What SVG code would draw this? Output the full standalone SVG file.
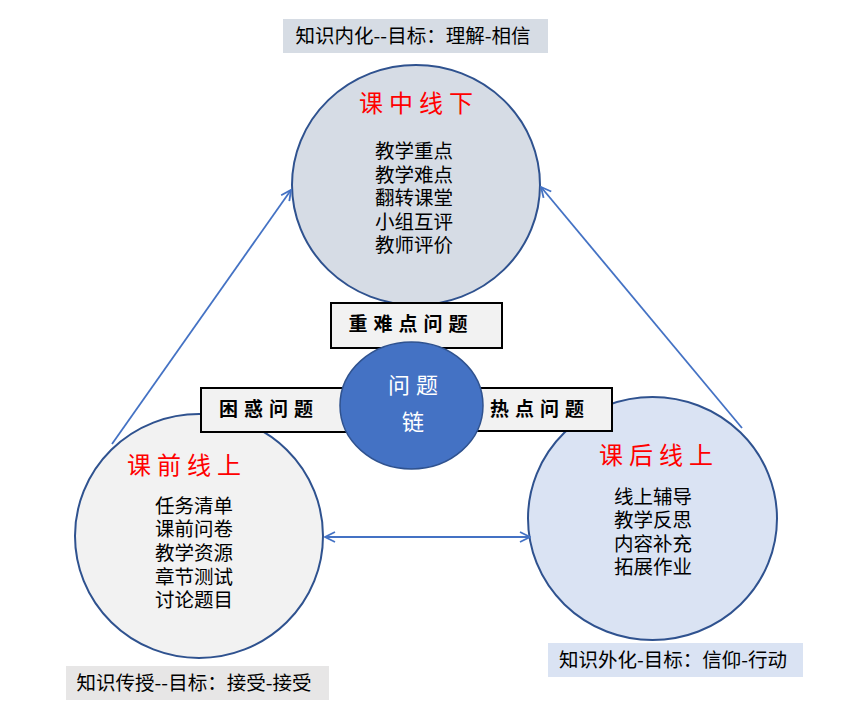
<svg xmlns="http://www.w3.org/2000/svg" width="841" height="726" viewBox="0 0 841 726">
<defs>
<style>
.ring{stroke:#2F528F;stroke-width:2}
.title{font-family:"Noto Sans CJK SC",sans-serif;font-size:24px;fill:#FF0000;letter-spacing:6px;text-anchor:middle}
.body{font-family:"Noto Sans CJK SC",sans-serif;font-size:19.5px;fill:#000;text-anchor:middle}
.box{fill:#F2F2F2;stroke:#000;stroke-width:2}
.boxt{font-family:"Noto Sans CJK SC",sans-serif;font-size:19px;font-weight:bold;fill:#000;letter-spacing:6px;text-anchor:middle}
.goal{font-family:"Noto Sans CJK SC",sans-serif;font-size:19.5px;fill:#000;text-anchor:middle}
.conn{stroke:#4472C4;stroke-width:1.8;fill:none}
</style>
<marker id="arr" viewBox="0 0 12 12" refX="11" refY="6" markerWidth="12" markerHeight="12" markerUnits="userSpaceOnUse" orient="auto-start-reverse">
<path d="M1,1 L11,6 L1,11" fill="none" stroke="#4472C4" stroke-width="1.8"/>
</marker>
</defs>
<rect width="841" height="726" fill="#FFFFFF"/>

<g id="goal-top">
<rect x="283" y="19" width="265" height="34" fill="#D6DCE4"/>
<text class="goal" x="413" y="43">知识内化--目标：理解-相信</text>
</g>
<g id="goal-left">
<rect x="66" y="666" width="263" height="34" fill="#E7E6E6"/>
<text class="goal" x="194" y="690">知识传授--目标：接受-接受</text>
</g>
<g id="goal-right">
<rect x="548" y="643" width="255" height="34" fill="#DAE3F3"/>
<text class="goal" x="673" y="667">知识外化-目标：信仰-行动</text>
</g>

<g id="node-top">
<ellipse class="ring" cx="416" cy="185" rx="124" ry="120" fill="#D6DCE5"/>
<text class="title" x="419" y="112">课中线下</text>
<text class="body"><tspan x="414" y="158">教学重点</tspan><tspan x="414" y="182">教学难点</tspan><tspan x="414" y="205">翻转课堂</tspan><tspan x="414" y="229">小组互评</tspan><tspan x="414" y="252">教师评价</tspan></text>
</g>

<g id="node-left">
<ellipse class="ring" cx="199" cy="536" rx="124" ry="122" fill="#F2F2F2"/>
<text class="title" x="187" y="474">课前线上</text>
<text class="body"><tspan x="194" y="513">任务清单</tspan><tspan x="194" y="536">课前问卷</tspan><tspan x="194" y="560">教学资源</tspan><tspan x="194" y="584">章节测试</tspan><tspan x="194" y="607">讨论题目</tspan></text>
</g>

<g id="node-right">
<ellipse class="ring" cx="652.5" cy="518.5" rx="124.5" ry="121.5" fill="#DAE3F3"/>
<text class="title" x="659" y="464">课后线上</text>
<text class="body"><tspan x="653" y="504">线上辅导</tspan><tspan x="653" y="527">教学反思</tspan><tspan x="653" y="551">内容补充</tspan><tspan x="653" y="574">拓展作业</tspan></text>
</g>

<g id="connectors">
<line class="conn" x1="112" y1="444" x2="291" y2="190" marker-end="url(#arr)"/>
<line class="conn" x1="742" y1="428" x2="541" y2="187" marker-end="url(#arr)"/>
<line class="conn" x1="325" y1="537" x2="530" y2="537" marker-start="url(#arr)" marker-end="url(#arr)"/>
</g>

<g id="label-left">
<rect class="box" x="201" y="388" width="200" height="44"/>
<text class="boxt" x="269" y="416">困惑问题</text>
</g>
<g id="label-right">
<rect class="box" x="420" y="388" width="192" height="43"/>
<text class="boxt" x="540" y="416">热点问题</text>
</g>
<g id="label-top">
<rect class="box" x="331" y="303" width="171" height="45"/>
<text class="boxt" x="411" y="331">重难点问题</text>
</g>

<g id="node-center">
<ellipse cx="411.5" cy="405.5" rx="71.5" ry="63.5" fill="#4472C4" stroke="#2F528F" stroke-width="1.5"/>
<text font-family="'Noto Sans CJK SC',sans-serif" font-size="22" fill="#FFFFFF" text-anchor="middle"><tspan x="416" y="393" letter-spacing="6">问题</tspan><tspan x="413" y="430">链</tspan></text>
</g>
</svg>
